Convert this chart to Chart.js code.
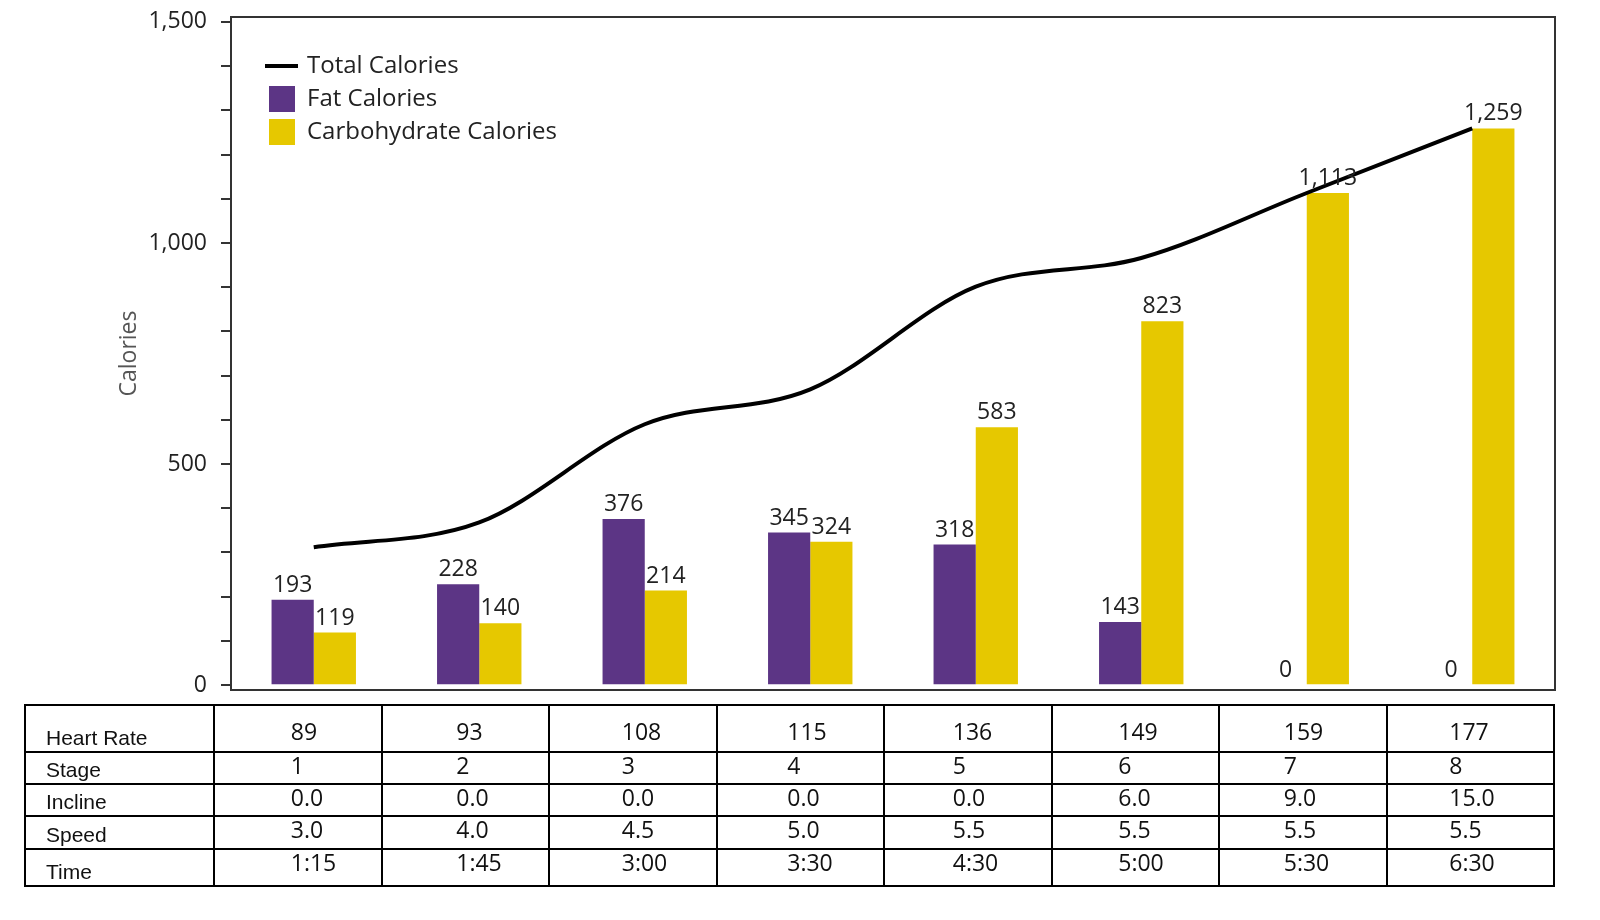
<!DOCTYPE html>
<html>
<head>
<meta charset="utf-8">
<script src="https://cdn.jsdelivr.net/npm/chart.js@4/dist/chart.umd.min.js"></script>
<style>
    body { margin: 0; background: #fff; }
    #wrap { position: relative; width: 1600px; height: 920px; background: #fff; overflow: hidden; }
    #chart { position: absolute; left: 0; top: -20px; }
    #stats {
        position: absolute; left: 24px; top: 704px; width: 1531px;
        border-collapse: collapse; table-layout: fixed;
    }
    #stats td {
        border: 2px solid #000; padding: 1px 0 0 0; text-align: left; vertical-align: top;
        font-family: "Open Sans", sans-serif; font-size: 23px; color: #111; line-height: 1;
    }
    #stats tr.first td { padding-top: 14px; }
    #stats td.lbl {
        vertical-align: bottom; padding: 0 0 3px 20px;
        font-family: "Liberation Sans", Arial, sans-serif; font-size: 21px;
    }
</style>
</head>
<body>
<div id="wrap">
    <canvas id="chart" width="1600" height="740"></canvas>
    <table id="stats"></table>
</div>
<script>
// values
const stageLabels = ['1', '2', '3', '4', '5', '6', '7', '8'];
const fatCalories = [193, 228, 376, 345, 318, 143, 0, 0];
const carbCalories = [119, 140, 214, 324, 583, 823, 1113, 1259];
const totalCalories = [312, 368, 590, 669, 901, 966, 1113, 1259];
const heartRate = ['89', '93', '108', '115', '136', '149', '159', '177'];
const incline = ['0.0', '0.0', '0.0', '0.0', '0.0', '6.0', '9.0', '15.0'];
const speed = ['3.0', '4.0', '4.5', '5.0', '5.5', '5.5', '5.5', '5.5'];
const times = ['1:15', '1:45', '3:00', '3:30', '4:30', '5:00', '5:30', '6:30'];

const PURPLE = '#5c3585';
const YELLOW = '#e6c800';
const FONT = '"Open Sans", sans-serif';

// box around the plot
const framePlugin = {
    id: 'frame',
    afterDraw(chart) {
        const { ctx, chartArea: a } = chart;
        ctx.save();
        ctx.strokeStyle = '#333';
        ctx.lineWidth = 2;
        ctx.strokeRect(a.left, a.top, a.right - a.left, a.bottom - a.top);
        ctx.restore();
    },
};

// numbers on top of the bars
const valueLabels = {
    id: 'valueLabels',
    afterDatasetsDraw(chart) {
        const { ctx } = chart;
        ctx.save();
        ctx.font = '23px ' + FONT;
        ctx.fillStyle = '#222';
        ctx.textAlign = 'center';
        ctx.textBaseline = 'bottom';
        chart.data.datasets.forEach((ds, i) => {
            if (ds.type !== 'bar') return;
            chart.getDatasetMeta(i).data.forEach((bar, j) => {
                ctx.fillText(ds.data[j].toLocaleString('en-US'), bar.x, bar.y - 3);
            });
        });
        ctx.restore();
    },
};

// legend inside the plot, top left
const legendPlugin = {
    id: 'insideLegend',
    afterDraw(chart) {
        const { ctx, chartArea: a } = chart;
        const x = a.left + 34;
        const y = a.top + 49;
        ctx.save();
        ctx.font = '24px ' + FONT;
        ctx.textBaseline = 'middle';
        chart.data.datasets.forEach((ds, i) => {
            const cy = y + i * 33;
            if (ds.type === 'line') {
                ctx.strokeStyle = ds.borderColor;
                ctx.lineWidth = 4;
                ctx.beginPath();
                ctx.moveTo(x, cy);
                ctx.lineTo(x + 33, cy);
                ctx.stroke();
            } else {
                ctx.fillStyle = ds.backgroundColor;
                ctx.fillRect(x + 4, cy - 13, 26, 26);
            }
            ctx.fillStyle = '#222';
            ctx.fillText(ds.label, x + 42, cy);
        });
        ctx.restore();
    },
};

const chart = new Chart(document.getElementById('chart').getContext('2d'), {
    data: {
        labels: stageLabels,
        datasets: [
            {
                type: 'line',
                label: 'Total Calories',
                data: totalCalories,
                borderColor: '#000',
                borderWidth: 4,
                pointRadius: 0,
                cubicInterpolationMode: 'monotone',
                order: 0,
            },
            { type: 'bar', label: 'Fat Calories', data: fatCalories, backgroundColor: PURPLE, order: 1 },
            { type: 'bar', label: 'Carbohydrate Calories', data: carbCalories, backgroundColor: YELLOW, order: 1 },
        ],
    },
    options: {
        responsive: false,
        animation: false,
        layout: { padding: { left: 112, right: 45, top: 37, bottom: 30 } },
        datasets: { bar: { categoryPercentage: 0.51, barPercentage: 1.0 } },
        scales: {
            x: { display: false, offset: true },
            y: {
                min: -11,
                max: 1511,
                afterBuildTicks(scale) {
                    scale.ticks = scale.ticks.filter(t => t.value >= 0 && t.value <= 1500 && t.value % 100 === 0);
                },
                afterFit(scale) { scale.width = 119; },
                ticks: {
                    stepSize: 100,
                    includeBounds: false,
                    autoSkip: false,
                    padding: 14,
                    color: '#222',
                    font: { family: FONT, size: 23 },
                    callback: (v) => (v % 500 === 0 ? v.toLocaleString('en-US') : ''),
                },
                grid: { drawOnChartArea: false, drawTicks: true, tickLength: 10, color: '#333', lineWidth: 2 },
                border: { display: false },
                title: {
                    display: true,
                    text: 'Calories',
                    color: '#555',
                    font: { family: FONT, size: 23 },
                },
            },
        },
        plugins: {
            legend: { display: false },
            tooltip: { enabled: false },
        },
    },
    plugins: [framePlugin, valueLabels, legendPlugin],
});

// table under the chart, values start a little left of each stage's center
const rows = [
    ['Heart Rate', heartRate, 47],
    ['Stage', stageLabels, 32],
    ['Incline', incline, 32],
    ['Speed', speed, 33],
    ['Time', times, 37],
];
const table = document.getElementById('stats');
let colgroup = '<colgroup><col style="width:189px">';
stageLabels.forEach(() => { colgroup += '<col>'; });
table.innerHTML = colgroup + '</colgroup>';
rows.forEach(([name, vals, h], r) => {
    const tr = document.createElement('tr');
    if (r === 0) tr.className = 'first';
    tr.style.height = h + 'px';
    tr.innerHTML = '<td class="lbl">' + name + '</td>' + vals.map(v => '<td>' + v + '</td>').join('');
    table.appendChild(tr);
});
const xScale = chart.scales.x;
const wrapLeft = document.getElementById('wrap').getBoundingClientRect().left;
table.querySelectorAll('tr').forEach(tr => {
    tr.querySelectorAll('td:not(.lbl)').forEach((td, i) => {
        const cellLeft = td.getBoundingClientRect().left - wrapLeft;
        td.style.paddingLeft = Math.max(0, xScale.getPixelForValue(i) - 24 - cellLeft) + 'px';
    });
});
</script>
</body>
</html>
